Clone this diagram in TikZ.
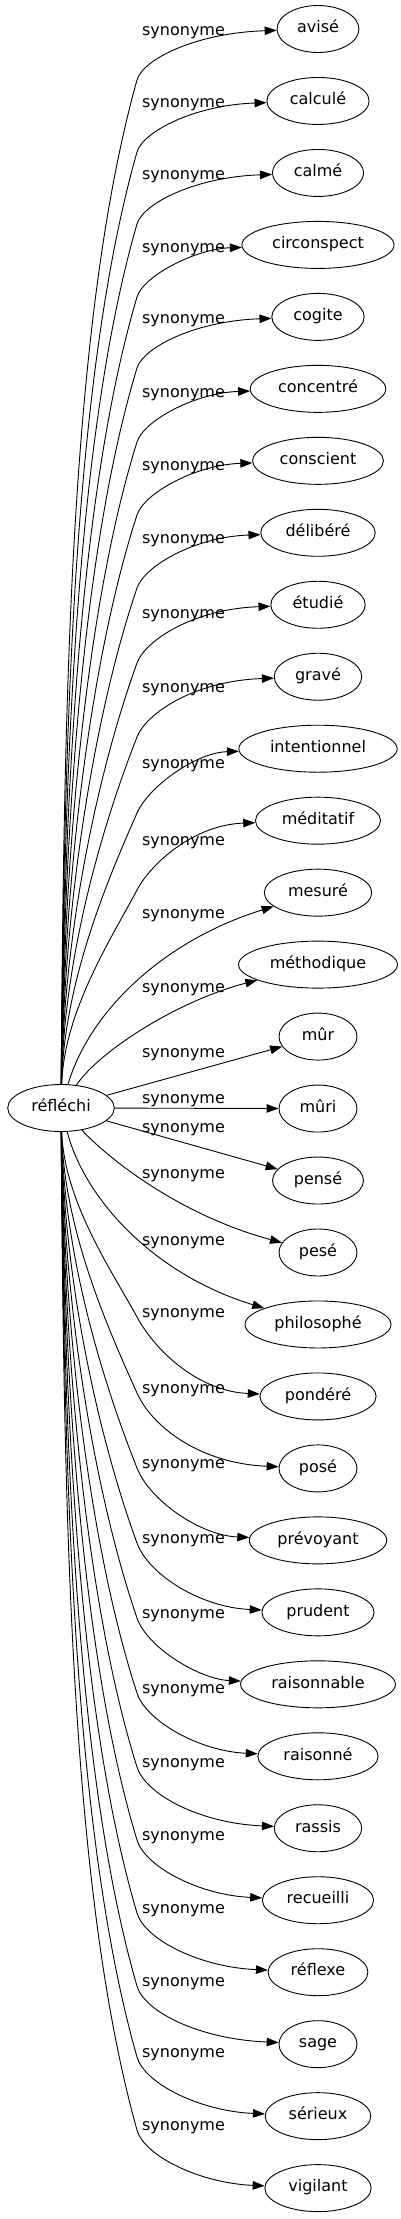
\documentclass[tikz,border=0pt]{standalone}
\usepackage{fontspec}
\setmainfont{DejaVu Sans}
\usetikzlibrary{shapes.geometric,arrows.meta}

\begin{document}
\begin{tikzpicture}[x=1pt, y=1pt,
  every node/.style={font=\fontsize{16}{19}\selectfont},
  mot/.style={draw, ellipse, line width=0.9pt, inner xsep=8pt, inner ysep=2pt,
    minimum width=78pt, minimum height=47pt, text height=0.9em, text depth=0.15em},
  lien/.style={line width=0.9pt, -{Triangle[length=12pt, width=8.5pt]}},
  etiq/.style={anchor=base, inner sep=0pt}]

  \useasboundingbox (0,0) rectangle (400,-2219);

  % mot de depart
  \node[mot] (src) at (61,-1108) {réfléchi};

  % synonymes
  \foreach \i/\txt in {0/avisé, 1/calculé, 2/calmé, 3/circonspect, 4/cogite,
      5/concentré, 6/conscient, 7/délibéré, 8/étudié, 9/gravé, 10/intentionnel,
      11/méditatif, 12/mesuré, 13/méthodique, 14/mûr, 15/mûri, 16/pensé,
      17/pesé, 18/philosophé, 19/pondéré, 20/posé, 21/prévoyant, 22/prudent,
      23/raisonnable, 24/raisonné, 25/rassis, 26/recueilli, 27/réflexe,
      28/sage, 29/sérieux, 30/vigilant} {
    \node[mot] (m\i) at (318,{-29-71.97*\i}) {\txt};
  }

  % liens vers le haut
  \foreach \i/\lb in {0/30, 1/102, 2/174, 3/247, 4/318, 5/392, 6/465, 7/538,
      8/613, 9/687, 10/763, 11/840} {
    \pgfmathsetmacro{\yt}{29+71.97*\i}
    \pgfmathsetmacro{\ky}{\lb+50}
    \pgfmathsetmacro{\haut}{1085-\ky}
    \pgfmathsetmacro{\pente}{min(1.2,0.22+60/\haut)}
    \pgfmathsetmacro{\bras}{0.4*(\ky-\yt)}
    \draw[lien] (src) .. controls (64,{-1085+0.38*\haut}) and ({137-\pente*0.24*\haut},{-\ky-0.24*\haut}) .. (137,-\ky)
      .. controls ({137+\pente*\bras},{-\ky+\bras}) and (195,{-\yt-4}) .. (m\i)
      node[etiq] at (183.5,{-\lb-5.5}) {synonyme};
  }

  % liens proches
  \draw[lien] (src) .. controls (90,-1010) and (165,-940) .. (m12)
    node[etiq] at (183.5,-918.5) {synonyme};
  \draw[lien] (src) .. controls (100,-1050) and (180,-1000) .. (m13)
    node[etiq] at (183.5,-992.5) {synonyme};
  \draw[lien] (src) -- (m14) node[etiq] at (183.5,-1057.5) {synonyme};
  \draw[lien] (src) -- (m15) node[etiq] at (183.5,-1103.5) {synonyme};
  \draw[lien] (src) -- (m16) node[etiq] at (183.5,-1132.5) {synonyme};
  \draw[lien] (src) .. controls (110,-1160) and (180,-1215) .. (m17)
    node[etiq] at (183.5,-1178.5) {synonyme};
  \draw[lien] (src) .. controls (85,-1200) and (155,-1275) .. (m18)
    node[etiq] at (183.5,-1245.5) {synonyme};

  % liens vers le bas
  \foreach \i/\lb in {19/1312, 20/1388, 21/1463, 22/1538, 23/1613, 24/1688,
      25/1762, 26/1835, 27/1908, 28/1981, 29/2052, 30/2125} {
    \pgfmathsetmacro{\yt}{29+71.97*\i}
    \pgfmathsetmacro{\ky}{\lb+5}
    \pgfmathsetmacro{\haut}{\ky-1131}
    \pgfmathsetmacro{\pente}{min(1.2,0.22+60/\haut)}
    \pgfmathsetmacro{\bras}{0.45*(\yt-\ky)}
    \draw[lien] (src) .. controls (64,{-1131-0.38*\haut}) and ({137-\pente*0.24*\haut},{-\ky+0.24*\haut}) .. (137,-\ky)
      .. controls ({137+\pente*\bras},{-\ky-\bras}) and (200,{-\yt+5}) .. (m\i)
      node[etiq] at (183.5,{-\lb-5.5}) {synonyme};
  }
\end{tikzpicture}
\end{document}
